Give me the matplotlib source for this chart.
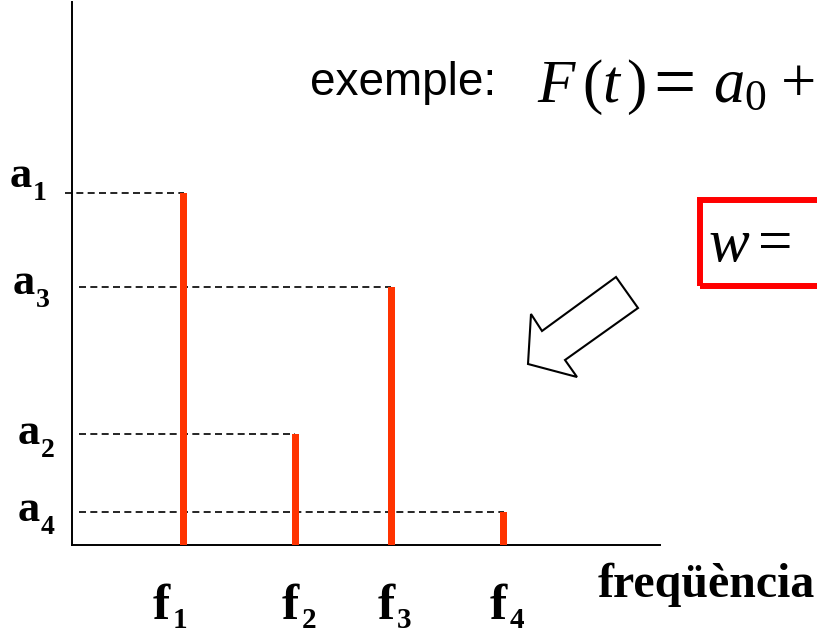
import matplotlib.pyplot as plt
from matplotlib.patches import Polygon, Rectangle
from matplotlib.transforms import blended_transform_factory

plt.rcParams['mathtext.fontset'] = 'custom'
plt.rcParams['mathtext.rm'] = 'Liberation Serif'
plt.rcParams['mathtext.it'] = 'Liberation Serif:italic'
plt.rcParams['mathtext.bf'] = 'Liberation Serif:bold'

# spectrum lines: frequency position and amplitude
freqs = [1.90, 3.80, 5.43, 7.34]
amps = [6.48, 2.05, 4.75, 0.60]
freq_subs = ['1', '2', '3', '4']
amp_subs = ['1', '2', '3', '4']

W, H = 817, 635


def fx(px):
    return px / W


def fy(py):
    return 1 - py / H


fig = plt.figure(figsize=(W / 100, H / 100), dpi=100)
ax = fig.add_axes([fx(72), fy(545), fx(660) - fx(72), fy(2) - fy(545)])
ax.set_xlim(0, 10)
ax.set_ylim(0, 10)
for side in ['top', 'right']:
    ax.spines[side].set_visible(False)
for side in ['left', 'bottom']:
    ax.spines[side].set_linewidth(1.4)
ax.set_xticks([])
ax.set_yticks([])

ax.bar(freqs, amps, width=0.125, color='#ff3300', zorder=3)

# dashed guides from the axis to each line
for i, (f, a) in enumerate(zip(freqs, amps)):
    start = -0.12 if i == 0 else 0.12
    ax.plot([start, f], [a, a], color='black', lw=1.2,
            linestyle=(0, (4.2, 2.6)), clip_on=False, zorder=2)

label_kw = dict(family='Liberation Serif', fontweight='bold', va='baseline',
                ha='left', textcoords='offset pixels')

# amplitude labels on the left
y_trans = blended_transform_factory(fig.transFigure, ax.transData)
left_px = [10, 18, 13, 18]
drop_px = [-6, 10, 7, 9]
for sub, a, px, d in zip(amp_subs, amps, left_px, drop_px):
    ax.annotate('a', xy=(fx(px), a), xytext=(0, -d), fontsize=32,
                xycoords=y_trans, **label_kw)
    ax.annotate(sub, xy=(fx(px), a), xytext=(23, -d - 13), fontsize=20,
                xycoords=y_trans, **label_kw)

# frequency labels below the axis
x_trans = blended_transform_factory(ax.transData, fig.transFigure)
shift_px = [-31, -14, -14, -14]
for sub, f, s in zip(freq_subs, freqs, shift_px):
    ax.annotate('f', xy=(f, fy(619)), xytext=(s, 0), fontsize=37,
                xycoords=x_trans, **label_kw)
    ax.annotate(sub, xy=(f, fy(619)), xytext=(s + 20, -9), fontsize=21,
                xycoords=x_trans, **label_kw)

fig.text(fx(598), fy(597), 'freqüència', fontsize=34.5, fontweight='bold',
         family='Liberation Serif', ha='left', va='baseline')

# example formula, running up to the right edge
fig.text(fx(310), fy(95), 'exemple:', fontsize=33,
         family='Liberation Sans', ha='left', va='baseline')
fig.text(fx(537), fy(102), r'$F\,(t\,)$', fontsize=44,
         ha='left', va='baseline')
fig.text(fx(674), fy(106), '=', fontsize=54, family='Liberation Serif',
         ha='center', va='baseline')
fig.text(fx(713), fy(102), r'$a_0$', fontsize=45, ha='left',
         va='baseline')
fig.text(fx(816), fy(102), '+', fontsize=45, family='Liberation Serif',
         ha='right', va='baseline')

# highlighted box, cut at the right edge
fig.patches.append(Rectangle((fx(700), fy(286)), fx(900) - fx(700),
                             fy(200) - fy(286), transform=fig.transFigure,
                             fill=False, edgecolor='#ff0000', lw=4.3))
fig.text(fx(708), fy(261), r'$w =$', fontsize=44, ha='left', va='baseline')

# hollow block arrow pointing down-left
arrow_px = [(616, 277), (638, 308), (565, 360), (577, 377),
            (528, 364), (531, 314), (542, 331)]
fig.patches.append(Polygon([(fx(x), fy(y)) for x, y in arrow_px],
                           closed=True, transform=fig.transFigure,
                           facecolor='white', edgecolor='black', lw=1.5))

fig.savefig('out.png', dpi=100)
